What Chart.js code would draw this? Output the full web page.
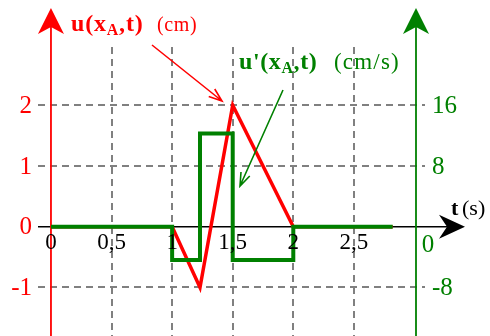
<!DOCTYPE html>
<html>
<head>
<meta charset="utf-8">
<script src="https://cdn.jsdelivr.net/npm/chart.js@4/dist/chart.umd.min.js"></script>
<style>
  html, body { margin: 0; padding: 0; background: #fff; }
  canvas { display: block; }
</style>
</head>
<body>
<canvas id="plot" width="490" height="336"></canvas>
<script>
// displacement u(xA,t) in cm, broken line through these points
var tU = [0, 1, 1.23, 1.5, 2, 2.82];
var uVals = [0, 0, -1, 2, 0, 0];

// velocity u'(xA,t) in cm/s, constant from each time until the next one
var tV = [0, 1, 1.23, 1.5, 2, 2.82];
var vVals = [0, -4.4, 12.3, -4.4, 0, 0];

// tick labels
var tTicks = [0, 0.5, 1, 1.5, 2, 2.5];
var tTickLabels = ['0', '0,5', '1', '1,5', '2', '2,5'];
var uTicks = [-1, 0, 1, 2];
var vTicks = [-8, 0, 8, 16];

var RED = '#ff0000';
var GREEN = '#008000';
var SERIF = '"Liberation Serif", "DejaVu Serif", serif';

function pts(xs, ys) {
    return xs.map(function (x, i) { return { x: x, y: ys[i] }; });
}

function arrowHead(ctx, x, y, angle, len, half, notch) {
    // filled arrow head pointing along angle, tip at (x, y)
    ctx.save();
    ctx.translate(x, y);
    ctx.rotate(angle);
    ctx.beginPath();
    ctx.moveTo(0, 0);
    ctx.lineTo(-len, -half);
    ctx.lineTo(-len + notch, 0);
    ctx.lineTo(-len, half);
    ctx.closePath();
    ctx.fill();
    ctx.restore();
}

function openArrow(ctx, x1, y1, x2, y2, color) {
    var a = Math.atan2(y2 - y1, x2 - x1);
    ctx.save();
    ctx.strokeStyle = color;
    ctx.lineWidth = 1.6;
    ctx.beginPath();
    ctx.moveTo(x1, y1);
    ctx.lineTo(x2, y2);
    ctx.moveTo(x2 - 14 * Math.cos(a - 0.35), y2 - 14 * Math.sin(a - 0.35));
    ctx.lineTo(x2, y2);
    ctx.lineTo(x2 - 14 * Math.cos(a + 0.35), y2 - 14 * Math.sin(a + 0.35));
    ctx.stroke();
    ctx.restore();
}

// label like "u(x_A,t)" with a subscript A
function subLabel(ctx, x, y, pre, sub, post, size) {
    ctx.font = 'bold ' + size + 'px ' + SERIF;
    ctx.fillText(pre, x, y);
    x += ctx.measureText(pre).width;
    ctx.font = 'bold ' + Math.round(size * 0.65) + 'px ' + SERIF;
    ctx.fillText(sub, x, y + 4);
    x += ctx.measureText(sub).width;
    ctx.font = 'bold ' + size + 'px ' + SERIF;
    ctx.fillText(post, x, y);
}

var axesPlugin = {
    id: 'axesPlugin',
    beforeDatasetsDraw: function (chart) {
        var ctx = chart.ctx;
        var xs = chart.scales.x, ys = chart.scales.y;
        var area = chart.chartArea;
        var bottom = chart.height;
        ctx.save();
        // dashed grid
        ctx.strokeStyle = '#808080';
        ctx.lineWidth = 2;
        ctx.setLineDash([7, 5]);
        tTicks.forEach(function (t) {
            if (t === 0) return;
            var px = Math.round(xs.getPixelForValue(t));
            ctx.beginPath();
            ctx.moveTo(px, area.top + 3);
            ctx.lineTo(px, bottom);
            ctx.stroke();
        });
        uTicks.forEach(function (u) {
            if (u === 0) return;
            var py = Math.round(ys.getPixelForValue(u));
            ctx.beginPath();
            ctx.moveTo(area.left, py);
            ctx.lineTo(area.right, py);
            ctx.stroke();
        });
        ctx.setLineDash([]);

        // time axis
        var y0 = ys.getPixelForValue(0);
        ctx.strokeStyle = '#000';
        ctx.fillStyle = '#000';
        ctx.lineWidth = 1.6;
        ctx.beginPath();
        ctx.moveTo(area.left, y0);
        ctx.lineTo(455, y0);
        ctx.stroke();
        arrowHead(ctx, 465, y0, 0, 26, 12, 8);

        // left u axis
        var xl = xs.getPixelForValue(0);
        ctx.strokeStyle = RED;
        ctx.fillStyle = RED;
        ctx.lineWidth = 1.8;
        ctx.beginPath();
        ctx.moveTo(xl, bottom);
        ctx.lineTo(xl, 20);
        ctx.stroke();
        arrowHead(ctx, xl, 8, -Math.PI / 2, 26, 13, 7);

        // right u' axis
        var xr = 416;
        ctx.strokeStyle = GREEN;
        ctx.fillStyle = GREEN;
        ctx.beginPath();
        ctx.moveTo(xr, bottom);
        ctx.lineTo(xr, 20);
        ctx.stroke();
        arrowHead(ctx, xr, 8, -Math.PI / 2, 26, 13, 7);
        ctx.restore();
    },
    afterDatasetsDraw: function (chart) {
        var ctx = chart.ctx;
        var xs = chart.scales.x, ys = chart.scales.y, y2 = chart.scales.y2;
        ctx.save();
        ctx.textBaseline = 'middle';

        // left tick labels
        ctx.fillStyle = RED;
        ctx.textAlign = 'right';
        ctx.font = '25px ' + SERIF;
        uTicks.forEach(function (u) {
            ctx.fillText(String(u), 32, ys.getPixelForValue(u) + 1);
        });

        // right tick labels, zero pushed under the time axis
        ctx.fillStyle = GREEN;
        ctx.textAlign = 'left';
        vTicks.forEach(function (v) {
            if (v === 0) {
                ctx.textAlign = 'center';
                ctx.fillText('0', 428, y2.getPixelForValue(0) + 19);
                ctx.textAlign = 'left';
            } else {
                ctx.fillText(String(v), 432, y2.getPixelForValue(v) + 1);
            }
        });

        // time tick labels
        ctx.fillStyle = '#000';
        ctx.textAlign = 'center';
        ctx.font = '23px ' + SERIF;
        tTicks.forEach(function (t, i) {
            ctx.fillText(tTickLabels[i], xs.getPixelForValue(t), ys.getPixelForValue(0) + 16);
        });

        // axis names
        ctx.textAlign = 'left';
        ctx.textBaseline = 'alphabetic';
        ctx.font = 'bold 22px ' + SERIF;
        ctx.fillText('t', 451, 215);
        ctx.font = '22px ' + SERIF;
        ctx.fillText('(s)', 462, 215);

        ctx.fillStyle = RED;
        ctx.letterSpacing = '0.8px';
        subLabel(ctx, 71, 31, 'u(x', 'A', ',t)', 24);
        ctx.font = '20px ' + SERIF;
        ctx.letterSpacing = '0.6px';
        ctx.fillText('(cm)', 157, 31);

        ctx.fillStyle = GREEN;
        ctx.letterSpacing = '0.6px';
        subLabel(ctx, 239, 69, "u'(x", 'A', ',t)', 24);
        ctx.font = '23px ' + SERIF;
        ctx.letterSpacing = '1.2px';
        ctx.fillText('(cm/s)', 334, 69);
        ctx.letterSpacing = '0px';

        openArrow(ctx, 152, 45, 222, 101, RED);
        openArrow(ctx, 283, 90, 240, 186, GREEN);
        ctx.restore();
    }
};

var data = {
    datasets: [{
        label: "u'(xA,t)",
        data: pts(tV, vVals),
        yAxisID: 'y2',
        stepped: 'before',
        borderColor: GREEN,
        borderWidth: 4,
        borderJoinStyle: 'miter',
        pointRadius: 0,
        fill: false
    }, {
        label: 'u(xA,t)',
        data: pts(tU, uVals),
        yAxisID: 'y',
        borderColor: RED,
        borderWidth: 3.5,
        borderJoinStyle: 'miter',
        pointRadius: 0,
        tension: 0,
        fill: false
    }]
};

var layout = {
    type: 'line',
    data: data,
    options: {
        responsive: false,
        animation: false,
        layout: {
            padding: { left: 38, right: 65, top: 44, bottom: 0 }
        },
        scales: {
            x: { type: 'linear', min: -0.107, max: 3.087, display: false },
            y: { min: -1.8, max: 3.01, display: false },
            y2: { position: 'right', min: -14.4, max: 24.08, display: false }
        },
        plugins: {
            legend: { display: false },
            tooltip: { enabled: false }
        }
    },
    plugins: [axesPlugin]
};

new Chart(document.getElementById('plot'), layout);
</script>
</body>
</html>
